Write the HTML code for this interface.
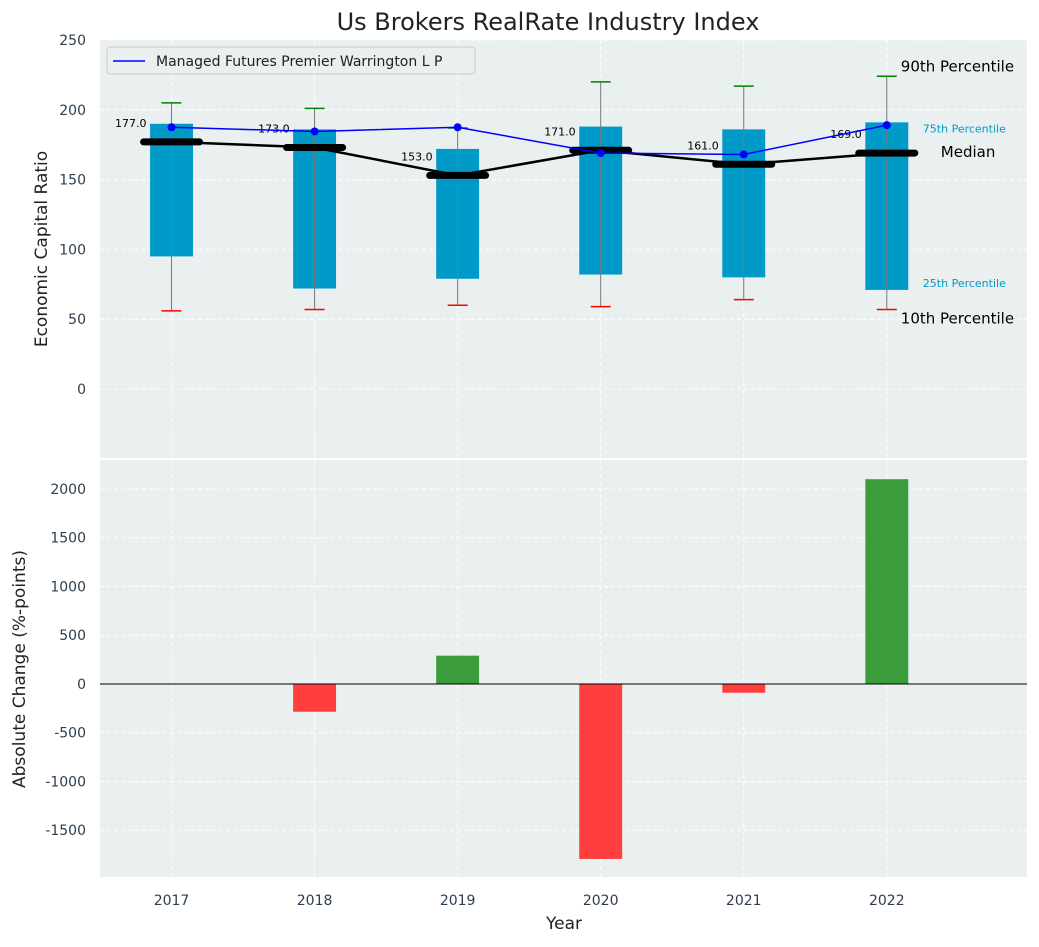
<!DOCTYPE html>
<html><head><meta charset="utf-8"><style>
body{margin:0;background:#fff;font-family:"Liberation Sans","DejaVu Sans",sans-serif;}
svg text{font-family:"DejaVu Sans","Liberation Sans",sans-serif;}
</style></head><body>
<svg id="c" width="1039" height="942"></svg>
<script>
const years=[2017,2018,2019,2020,2021,2022];
const p10=[56,57,60,59,64,57];
const p25=[95,72,79,82,80,71];
const med=[177,173,153,171,161,169];
const p75=[190,186,172,188,186,191];
const p90=[205,201,187,220,217,224];
const company=[187.5,184.5,187.5,169,168,189];
const changes=[0,-285,290,-1795,-90,2100];
const topTicks=[0,50,100,150,200,250];
const botTicks=[-1500,-1000,-500,0,500,1000,1500,2000];

const NS="http://www.w3.org/2000/svg";
const svg=document.getElementById('c');
function el(t,a,p){const e=document.createElementNS(NS,t);for(const k in a)e.setAttribute(k,a[k]);(p||svg).appendChild(e);return e;}
const L=100,R=1027,T1=40,B1=458,T2=460,B2=877;
const x=v=>L+(v-2016.5)/(2022.98-2016.5)*(R-L);
const y1=v=>T1+(250-v)/(250-(-49.4))*(B1-T1);
const y2=v=>T2+(2297-v)/(2297-(-1980))*(B2-T2);

let r=el('rect',{x:L,y:T1,width:R-L,height:B1-T1,fill:'#eaeff0'});

r=el('rect',{x:L,y:T2,width:R-L,height:B2-T2,fill:'#eaeff0'});


years.forEach(yr=>{
  el('line',{x1:x(yr),x2:x(yr),y1:T1,y2:B1,stroke:'#fff','stroke-dasharray':'4,3'});
  el('line',{x1:x(yr),x2:x(yr),y1:T2,y2:B2,stroke:'#fff','stroke-dasharray':'4,3'});
  const t=el('text',{x:x(yr),y:905,'text-anchor':'middle','font-size':14,fill:'#2d3e50'});t.textContent=yr;
  
});
topTicks.forEach(v=>{
  el('line',{x1:L,x2:R,y1:y1(v),y2:y1(v),stroke:'#fff','stroke-dasharray':'4,3'});
  const t=el('text',{x:86,y:y1(v)+5,'text-anchor':'end','font-size':14,fill:'#2d3e50'});t.textContent=v;
  
});
botTicks.forEach(v=>{
  el('line',{x1:L,x2:R,y1:y2(v),y2:y2(v),stroke:'#fff','stroke-dasharray':'4,3'});
  const t=el('text',{x:86,y:y2(v)+5,'text-anchor':'end','font-size':14,fill:'#2d3e50'});t.textContent=v;
  
});

const bw=(0.3/(2022.98-2016.5))*(R-L);
years.forEach((yr,i)=>{
  const cx=x(yr);
  const b=el('rect',{x:cx-bw/2,y:y1(p75[i]),width:bw,height:y1(p25[i])-y1(p75[i]),fill:'#009ac9'});
  
  el('line',{x1:cx,x2:cx,y1:y1(p90[i]),y2:y1(p10[i]),stroke:'#777','stroke-width':1});
  const c1=el('line',{x1:cx-10,x2:cx+10,y1:y1(p90[i]),y2:y1(p90[i]),stroke:'green','stroke-width':1.5});
  
  const c2=el('line',{x1:cx-10,x2:cx+10,y1:y1(p10[i]),y2:y1(p10[i]),stroke:'red','stroke-width':1.5});
  
});
let pm=el('polyline',{points:years.map((yr,i)=>x(yr)+','+y1(med[i])).join(' '),fill:'none',stroke:'#000','stroke-width':2.5});

years.forEach((yr,i)=>{
  const m=el('line',{x1:x(yr)-28,x2:x(yr)+28,y1:y1(med[i]),y2:y1(med[i]),stroke:'#000','stroke-width':7,'stroke-linecap':'round'});
  
  const t=el('text',{x:x(yr)-25,y:y1(med[i])-15,'text-anchor':'end','font-size':11,fill:'#000'});t.textContent=med[i].toFixed(1);
  
});
pm=el('polyline',{points:years.map((yr,i)=>x(yr)+','+y1(company[i])).join(' '),fill:'none',stroke:'#0000ff','stroke-width':1.5});

years.forEach((yr,i)=>{
  const c=el('circle',{cx:x(yr),cy:y1(company[i]),r:4,fill:'#0000ff'});
  
});
const lx=x(2022);
[['90th Percentile',lx+14,y1(p90[5])-5,15,'#000'],['75th Percentile',lx+36,y1(p75[5])+10,11,'#009ac9'],['Median',lx+54,y1(med[5])+4,15,'#000'],['25th Percentile',lx+36,y1(p25[5])-3,11,'#009ac9'],['10th Percentile',lx+14,y1(p10[5])+14,15,'#000']].forEach(a=>{
  const t=el('text',{x:a[1],y:a[2],'font-size':a[3],fill:a[4]});t.textContent=a[0];
  
});
years.forEach((yr,i)=>{
  const v=changes[i];if(!v)return;
  const b=el('rect',{x:x(yr)-bw/2,y:Math.min(y2(v),y2(0)),width:bw,height:Math.abs(y2(v)-y2(0)),fill:v>0?'#3a9c3a':'#ff3e3e'});
  
});
el('line',{x1:L,x2:R,y1:y2(0),y2:y2(0),stroke:'#000','stroke-width':1});

const g=el('g',{});
el('rect',{x:107,y:47,width:368,height:27,rx:3,fill:'#eaeff0',stroke:'#ccc'},g);
el('line',{x1:113,x2:145,y1:61,y2:61,stroke:'#0000ff','stroke-width':1.5},g);
let t=el('text',{x:156,y:66,'font-size':14,fill:'#222'},g);t.textContent='Managed Futures Premier Warrington L P';

t=el('text',{x:548,y:30,'text-anchor':'middle','font-size':24,fill:'#222'});t.textContent='Us Brokers RealRate Industry Index';

t=el('text',{x:564,y:929,'text-anchor':'middle','font-size':17,fill:'#222'});t.textContent='Year';

t=el('text',{x:0,y:0,'text-anchor':'middle','font-size':17,fill:'#222',transform:'translate(47,249) rotate(-90)'});t.textContent='Economic Capital Ratio';

t=el('text',{x:0,y:0,'text-anchor':'middle','font-size':17,fill:'#222',transform:'translate(25,669) rotate(-90)'});t.textContent='Absolute Change (%-points)';

</script>
</body></html>
